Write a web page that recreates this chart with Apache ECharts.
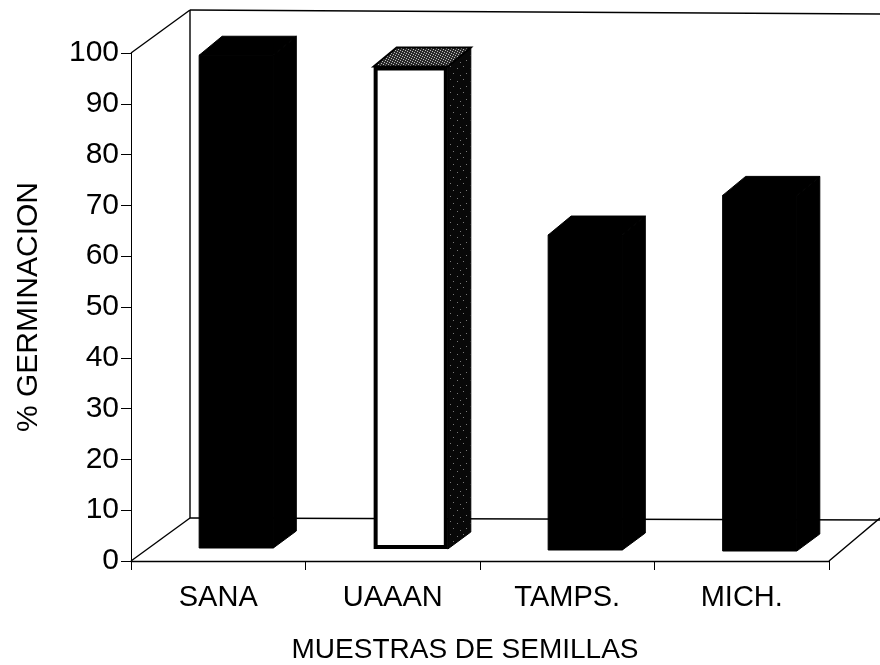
<!DOCTYPE html>
<html><head><meta charset="utf-8">
<style>html,body{margin:0;padding:0;background:#fff}#c{width:880px;height:665px}</style>
<script src="https://cdn.jsdelivr.net/npm/echarts@6/dist/echarts.min.js"></script>
</head><body><div id="c"></div>
<script>
const categories = ['SANA', 'UAAAN', 'TAMPS.', 'MICH.'];
const germination = [97, 95, 62, 70];
const yTicks = { min: 0, max: 100, interval: 10 };
const xTitle = 'MUESTRAS DE SEMILLAS';
const yTitle = '% GERMINACION';

const FONT = '"Liberation Sans", Arial, sans-serif';
const chart = echarts.init(document.getElementById('c'), null, { renderer: 'canvas' });
const ink = '#000';

function tile(size, bg, dotColor, dots) {
  const c = document.createElement('canvas');
  c.width = c.height = size;
  const g = c.getContext('2d');
  g.fillStyle = bg; g.fillRect(0, 0, size, size);
  g.fillStyle = dotColor;
  dots.forEach(d => g.fillRect(d[0], d[1], 1, 1));
  return { image: c, repeat: 'repeat' };
}
const topFill = tile(5, '#2a2a2a', '#bdbdbd', [[0, 0], [2, 1], [4, 2], [1, 3], [3, 4]]);
const sideFill = tile(13, '#080808', '#777777', [[2, 3], [8, 1], [11, 8], [5, 10]]);

function renderFrame(params, api) {
  const cs = params.coordSys;
  const L = cs.x, R = cs.x + cs.width, T = cs.y, B = cs.y + cs.height;
  const dx = 59, dy = -43;
  const segs = [
    [[L, T], [L + dx, T + dy]],
    [[L + dx, T + dy], [880, T + dy + 4]],
    [[L + dx, T + dy], [L + dx, B + dy]],
    [[L, B], [L + dx, B + dy]],
    [[L + dx, B + dy], [880, B + dy + 2]],
    [[R, B], [880, B + dy]]
  ];
  return {
    type: 'group',
    children: segs.map(s => ({
      type: 'line', silent: true,
      shape: { x1: s[0][0], y1: s[0][1], x2: s[1][0], y2: s[1][1] },
      style: { stroke: ink, lineWidth: 1.4 }
    }))
  };
}

function renderBar(params, api) {
  const i = api.value(0), v = api.value(1);
  const base = api.coord([i, 0]), top = api.coord([i, v]);
  const band = api.size([1, 0])[0];
  const w = band * 0.425, off = band * 0.103, lift = 13;
  const dx = 23, dy = -19, dyB = -17;
  const tilt = i * 1;
  const x0 = base[0] + off - w / 2, x1 = x0 + w;
  const y0 = base[1] - lift + tilt, y1 = top[1] - lift + tilt;
  const hollow = i === 1;
  const poly = (pts, fill, extra) => ({
    type: 'polygon', shape: { points: pts },
    style: Object.assign({ fill: fill, stroke: ink, lineWidth: 1 }, extra || {})
  });
  return {
    type: 'group',
    children: [
      poly([[x1, y0], [x1 + dx, y0 + dyB], [x1 + dx, y1 + dy], [x1, y1]], hollow ? sideFill : ink),
      poly([[x0, y1], [x0 + dx, y1 + dy], [x1 + dx, y1 + dy], [x1, y1]], hollow ? topFill : ink, hollow ? { lineWidth: 2 } : null),
      hollow
        ? { type: 'rect', shape: { x: x0 + 2, y: y1 + 2, width: w - 4, height: y0 - y1 - 4 },
            style: { fill: '#fff', stroke: ink, lineWidth: 4 } }
        : poly([[x0, y0], [x1, y0], [x1, y1], [x0, y1]], ink)
    ]
  };
}

chart.setOption({
  animation: false,
  backgroundColor: '#fff',
  grid: { left: 131, right: 51, top: 53, bottom: 104, outerBoundsMode: 'none' },
  xAxis: {
    type: 'category', data: categories, boundaryGap: true,
    name: xTitle, nameLocation: 'middle', nameGap: 75,
    nameTextStyle: { fontFamily: FONT, fontSize: 28, color: ink, padding: [0, 30, 0, 0] },
    axisLine: { lineStyle: { color: ink, width: 1.4 } },
    axisTick: { show: true, length: 9, alignWithLabel: false, lineStyle: { color: ink } },
    axisLabel: { fontFamily: FONT, fontSize: 29, color: ink, margin: 22 },
    splitLine: { show: false }
  },
  yAxis: {
    type: 'value', min: yTicks.min, max: yTicks.max, interval: yTicks.interval,
    name: yTitle, nameLocation: 'middle', nameGap: 87, nameRotate: 90,
    nameTextStyle: { fontFamily: FONT, fontSize: 30, color: ink },
    axisLine: { show: true, lineStyle: { color: ink, width: 1 } },
    axisTick: { show: true, length: 10, lineStyle: { color: ink } },
    axisLabel: { fontFamily: FONT, fontSize: 30, color: ink, margin: 12 },
    splitLine: { show: false }
  },
  series: [
    { type: 'custom', clip: false, z: 1, silent: true, data: [[0, 0]], renderItem: renderFrame,
      encode: { x: 0, y: 1 } },
    { type: 'custom', clip: false, z: 2, silent: true,
      data: categories.map((c, i) => [i, germination[i]]),
      renderItem: renderBar, encode: { x: 0, y: 1 } }
  ]
});
</script></body></html>
